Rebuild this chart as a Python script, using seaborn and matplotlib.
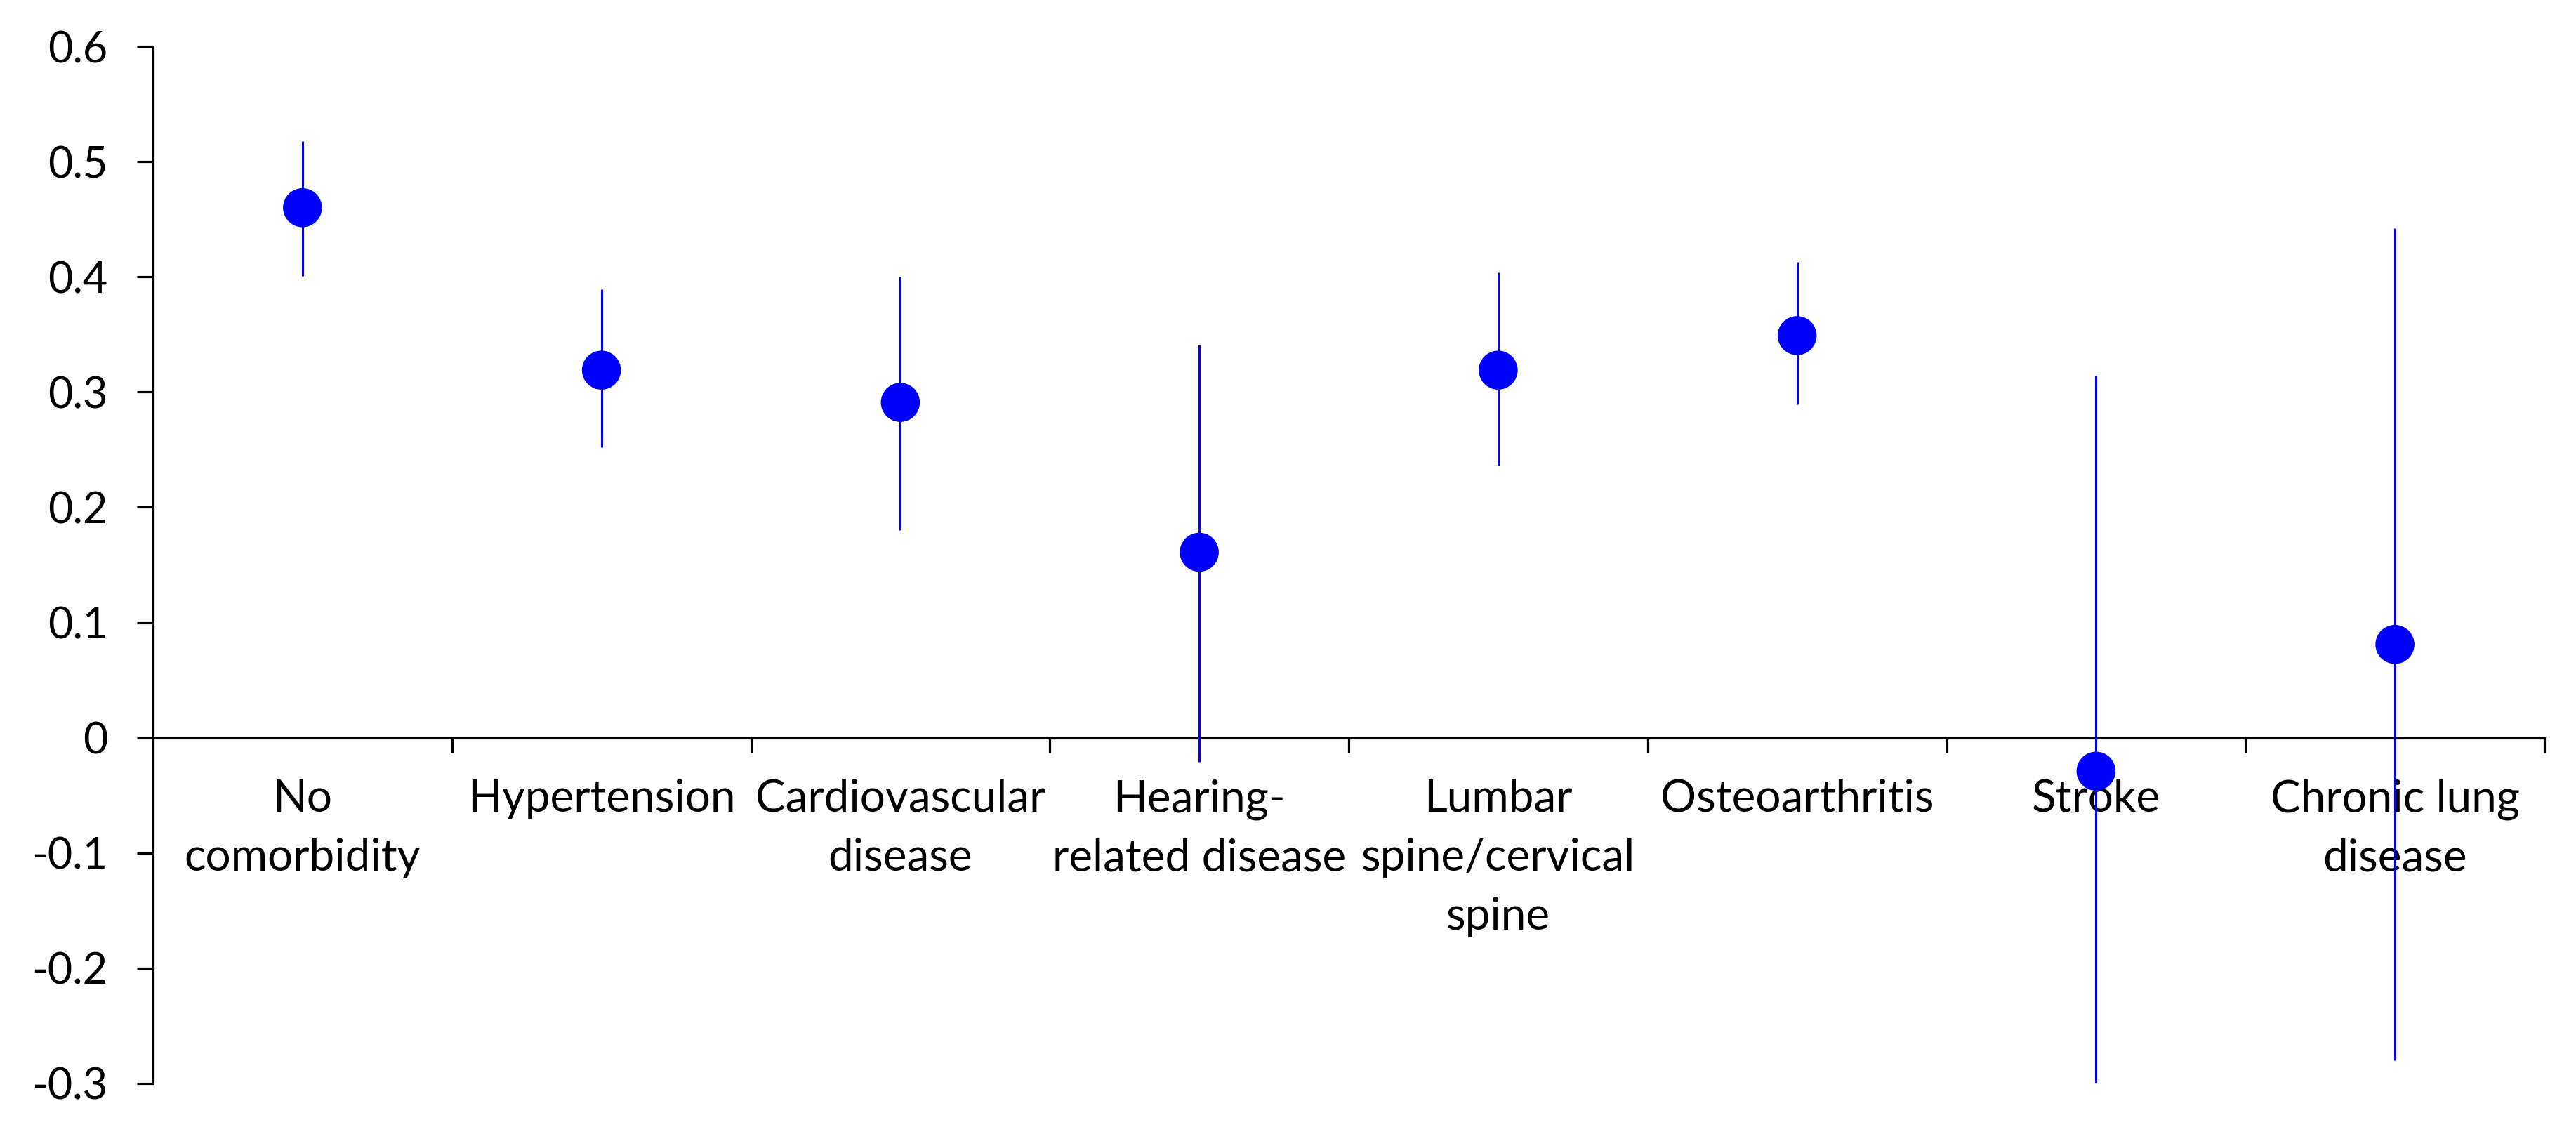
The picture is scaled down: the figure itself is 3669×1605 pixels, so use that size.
import matplotlib
matplotlib.use("Agg")
import matplotlib.pyplot as plt
import seaborn as sns
import pandas as pd
import numpy as np

categories = ["No\ncomorbidity", "Hypertension", "Cardiovascular\ndisease",
              "Hearing-\nrelated disease", "Lumbar\nspine/cervical\nspine",
              "Osteoarthritis", "Stroke", "Chronic lung\ndisease"]
estimate = [0.460, 0.319, 0.291, 0.161, 0.319, 0.349, -0.029, 0.081]
lower = [0.401, 0.252, 0.180, -0.021, 0.236, 0.289, -0.300, -0.280]
upper = [0.518, 0.389, 0.400, 0.341, 0.404, 0.413, 0.314, 0.442]
ytick_values = [-0.3, -0.2, -0.1, 0, 0.1, 0.2, 0.3, 0.4, 0.5, 0.6]
ytick_labels = ["-0.3", "-0.2", "-0.1", "0", "0.1", "0.2", "0.3", "0.4", "0.5", "0.6"]

sns.set_style("white")
plt.rcParams['font.family'] = ['Lato', 'DejaVu Sans']

df = pd.DataFrame({"category": categories, "estimate": estimate,
                   "lower": lower, "upper": upper})
df["pos"] = np.arange(len(categories))

fig = plt.figure(figsize=(18.345, 8.025), dpi=200)
ax = fig.add_axes([218/3669, 1 - 1543/1605, (3624-218)/3669, (1543-66)/1605])

ax.vlines(df["pos"], df["lower"], df["upper"], color="#0000FF", linewidth=1.1, zorder=3)
sns.scatterplot(data=df, x="pos", y="estimate", ax=ax, color="#0000FF",
                s=20**2, edgecolor="none", zorder=4, legend=False)

ax.set_xlim(-0.5, len(categories) - 0.5)
ax.set_ylim(-0.3, 0.6)
ax.set_yticks(ytick_values)
ax.set_yticklabels(ytick_labels)
ax.set_xticks(df["pos"])
ax.set_xticklabels(categories)
ax.set_xticks(np.arange(len(categories)) + 0.5, minor=True)
ax.set_xlabel("")
ax.set_ylabel("")

for s in ["top", "right"]:
    ax.spines[s].set_visible(False)
ax.spines["bottom"].set_position(("data", 0))
for s in ["left", "bottom"]:
    ax.spines[s].set_color("black")
    ax.spines[s].set_linewidth(1.15)

ax.tick_params(axis="y", direction="out", length=8.3, width=1.15, pad=15,
               labelsize=22, colors="black", left=True)
ax.tick_params(axis="x", which="major", length=0, pad=21, labelsize=23,
               colors="black", bottom=True)
ax.tick_params(axis="x", which="minor", direction="out", length=7.5, width=1.15,
               color="black", bottom=True)
ax.grid(False)

for t in ax.get_xticklabels():
    t.set_linespacing(1.55)

fig.savefig("out.png", dpi=200, facecolor="white")
